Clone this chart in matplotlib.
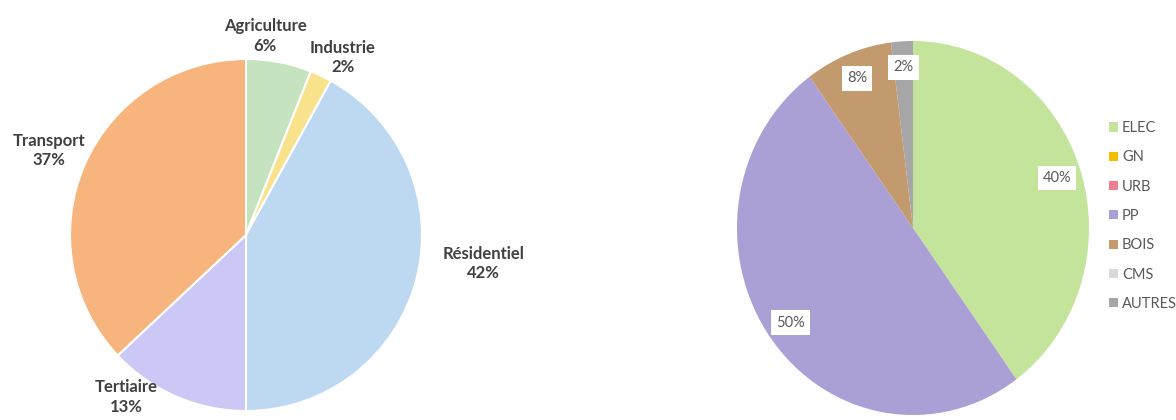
import matplotlib
matplotlib.use("Agg")
import matplotlib.pyplot as plt
from matplotlib.patches import Patch

plt.rcParams["font.family"] = ["Lato", "DejaVu Sans"]

# ── données ──
secteurs = ["Agriculture", "Industrie", "Résidentiel", "Tertiaire", "Transport"]
parts_secteurs = [6, 2, 42, 13, 37]
couleurs_secteurs = ["#c5e3bf", "#f8e38c", "#bdd8f1", "#cbc8f5", "#f8b47d"]

energies = ["ELEC", "GN", "URB", "PP", "BOIS", "CMS", "AUTRES"]
parts_energies = [40, 0, 0, 50, 8, 0, 2]
couleurs_energies = ["#c4e49b", "#f4be00", "#ef7e8e", "#aaa0d5", "#c39a6d", "#d9d9d9", "#a6a6a6"]

# position des étiquettes (unités de rayon)
pos_etiquettes = [(0.11, 1.13), (0.55, 1.01), (1.35, -0.16), (-0.68, -0.92), (-1.12, 0.48)]

W, H = 1176, 420
fig = plt.figure(figsize=(W / 100, H / 100), dpi=100, facecolor="white")


def axe_camembert(cx, cy, rx, ry, m=1.45):
    ax = fig.add_axes([(cx - m * rx) / W, (H - cy - m * ry) / H, 2 * m * rx / W, 2 * m * ry / H])
    ax.set_xlim(-m, m)
    ax.set_ylim(-m, m)
    ax.axis("off")
    return ax


# ── camembert gauche : secteurs ──
ax1 = axe_camembert(246, 235, 176, 176)
ax1.pie(parts_secteurs, colors=couleurs_secteurs, startangle=90, counterclock=False,
        wedgeprops=dict(edgecolor="white", linewidth=1.5), radius=1, frame=False)
ax1.set_xlim(-1.45, 1.45)
ax1.set_ylim(-1.45, 1.45)
ax1.set_aspect("auto")
for nom, p, (x, y) in zip(secteurs, parts_secteurs, pos_etiquettes):
    ax1.text(x, y, f"{nom}\n{p}%", ha="center", va="center", fontsize=12,
             fontweight="bold", color="#404040", linespacing=1.25)

# ── camembert droit : énergies ──
ax2 = axe_camembert(913, 228, 176, 187)
ax2.pie(parts_energies, colors=couleurs_energies, startangle=90, counterclock=False,
        wedgeprops=dict(edgecolor="none", linewidth=0), radius=1, frame=False,
        autopct=lambda v: f"{v:.0f}%" if v > 0.5 else "", pctdistance=0.86,
        textprops=dict(fontsize=10.5, color="#595959",
                       bbox=dict(boxstyle="square,pad=0.35", facecolor="white", edgecolor="none")))
ax2.set_xlim(-1.45, 1.45)
ax2.set_ylim(-1.45, 1.45)
ax2.set_aspect("auto")

handles = [Patch(facecolor=c, edgecolor="none") for c in couleurs_energies]
fig.legend(handles, energies, loc="center left", bbox_to_anchor=(1103 / W, 1 - 216 / H),
           frameon=False, fontsize=10.5, labelcolor="#595959", handlelength=0.6,
           handleheight=0.6, handletextpad=0.3, labelspacing=1.05, borderaxespad=0)

fig.savefig("out.png", dpi=100, facecolor="white")
